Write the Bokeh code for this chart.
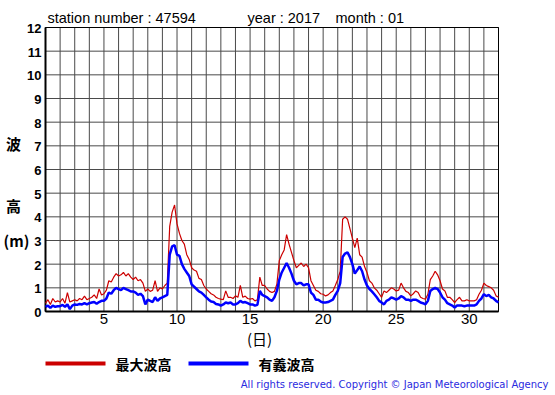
from bokeh.plotting import figure
from bokeh.models import Range1d
from bokeh.core.properties import value
from bokeh.embed import file_html
from bokeh.resources import INLINE

STEPS_PER_DAY = 6  # 4-hourly readings

max_wave = [
    0.35, 0.5, 0.3, 0.55, 0.4, 0.45,
    0.4, 0.55, 0.35, 0.8, 0.4, 0.45,
    0.5, 0.45, 0.55, 0.5, 0.65, 0.5,
    0.55, 0.6, 0.7, 0.55, 0.95, 0.7,
    0.75, 0.9, 1.3, 1.25, 1.45, 1.6,
    1.5, 1.55, 1.65, 1.5, 1.6, 1.45,
    1.35, 1.45, 1.3, 1.35, 1.2, 0.85,
    0.95, 0.85, 0.9, 1.3, 0.85, 1.0,
    0.95, 1.1, 1.2, 3.6, 4.2, 4.5,
    3.7, 3.3, 3.0, 2.85, 2.4, 2.2,
    1.85, 1.75, 1.7, 1.4, 1.35, 1.1,
    0.95, 0.85, 0.75, 0.7, 0.6, 0.55,
    0.52, 0.5, 0.87, 0.6, 0.6, 0.55,
    0.66, 0.6, 1.1, 0.6, 0.65, 0.55,
    0.52, 0.55, 0.45, 0.5, 1.45, 1.1,
    1.1, 0.95, 0.85, 0.8, 0.85, 1.15,
    2.15, 2.4, 2.6, 3.25, 2.85, 2.5,
    2.15, 1.85, 1.95, 2.05, 1.9, 2.0,
    1.85, 1.3, 1.1, 0.9, 0.85, 0.75,
    0.73, 0.66, 0.7, 0.8, 0.87, 1.1,
    1.35, 1.7, 3.9, 4.0, 3.9, 3.5,
    3.1, 2.7, 3.1, 2.4, 2.3, 1.9,
    1.65, 1.3, 1.2, 1.0, 0.9, 0.75,
    0.6, 0.87, 0.8, 0.9, 1.0, 0.95,
    0.87, 0.9, 1.2, 1.0, 0.85, 0.8,
    0.66, 0.75, 0.87, 0.8, 0.6, 0.55,
    0.52, 0.73, 1.35, 1.5, 1.7, 1.55,
    1.3, 0.95, 0.87, 0.6, 0.6, 0.5,
    0.38, 0.5, 0.6, 0.45, 0.45, 0.5,
    0.45, 0.45, 0.45, 0.5, 0.73, 0.9,
    1.2, 1.1, 1.05, 1.0, 0.9, 0.66,
    0.6,
]

sig_wave = [
    0.2, 0.25, 0.15, 0.25, 0.2, 0.22,
    0.22, 0.28, 0.2, 0.3, 0.1, 0.25,
    0.3, 0.28, 0.32, 0.3, 0.35, 0.3,
    0.35, 0.38, 0.4, 0.33, 0.4, 0.45,
    0.45, 0.55, 0.8, 0.75, 0.9, 1.0,
    0.95, 0.9, 1.0, 0.95, 0.9, 0.85,
    0.85, 0.8, 0.7, 0.75, 0.65, 0.3,
    0.5, 0.45, 0.4, 0.6, 0.45, 0.55,
    0.6, 0.65, 0.7, 2.4, 2.75, 2.8,
    2.4, 2.35, 2.0, 1.8, 1.65, 1.5,
    1.15, 1.05, 0.95, 0.85, 0.8, 0.7,
    0.6, 0.5, 0.42, 0.4, 0.32, 0.3,
    0.25, 0.3, 0.38, 0.35, 0.38, 0.3,
    0.3, 0.35, 0.45, 0.38, 0.4, 0.35,
    0.3, 0.3, 0.25, 0.28, 0.87, 0.7,
    0.65, 0.6, 0.5, 0.45, 0.6, 0.87,
    1.35, 1.65, 1.85, 2.05, 1.85, 1.6,
    1.3, 1.15, 1.2, 1.2, 1.1, 1.15,
    1.15, 0.8, 0.7, 0.5, 0.5, 0.42,
    0.38, 0.38, 0.4, 0.45, 0.5, 0.7,
    0.87, 1.2, 2.3, 2.45, 2.5, 2.3,
    2.0, 1.6, 1.75, 1.9, 1.7, 1.35,
    1.1, 0.95, 0.85, 0.73, 0.6, 0.45,
    0.38, 0.3, 0.45, 0.5, 0.6, 0.55,
    0.5, 0.55, 0.65, 0.6, 0.5, 0.5,
    0.45, 0.5, 0.5, 0.45, 0.38, 0.35,
    0.3, 0.45, 0.87, 0.95, 1.0, 0.95,
    0.8, 0.6, 0.5, 0.35, 0.3, 0.25,
    0.17, 0.25, 0.25, 0.25, 0.22, 0.25,
    0.25, 0.25, 0.25, 0.3, 0.45, 0.55,
    0.73, 0.65, 0.7, 0.6, 0.55, 0.45,
    0.38,
]

days = [1 + i / STEPS_PER_DAY for i in range(len(max_wave))]

grid_days = list(range(1, 33))
x_tick_values = [5, 10, 15, 20, 25, 30]
x_tick_labels = [str(v) for v in x_tick_values]
y_tick_values = list(range(0, 13))
y_tick_labels = [str(v) for v in y_tick_values]

title_parts = ["station number : 47594", "year : 2017", "month : 01"]
y_label_parts = ["波", "高", "(m)"]
x_label = "(日)"
legend_labels = ["最大波高", "有義波高"]
footer = "All rights reserved. Copyright © Japan Meteorological Agency"

RED = "#cc0000"
BLUE = "#0000ff"
GRID = "#4a4a4a"

# layout of the reference in page pixels: plot box and canvas
W, H = 555, 395
FL, FR, FT, FB = 45, 498, 27, 311
X0, X1, Y0, Y1 = 1, 32, 0, 12


def px(xpix):
    """page x pixel -> data x"""
    return X0 + (xpix - FL) * (X1 - X0) / (FR - FL)


def py(ypix):
    """page y pixel -> data y"""
    return Y0 + (FB - ypix) * (Y1 - Y0) / (FB - FT)


p = figure(width=W, height=H, output_backend="svg", toolbar_location=None,
           x_range=Range1d(px(0), px(W)), y_range=Range1d(py(H), py(0)),
           x_axis_type=None, y_axis_type=None,
           min_border_left=0, min_border_right=0, min_border_top=0, min_border_bottom=0)
p.outline_line_color = None
p.background_fill_color = "white"
p.border_fill_color = "white"

# grid
p.segment(x0=grid_days, y0=[Y0] * len(grid_days), x1=grid_days, y1=[Y1] * len(grid_days),
          line_color=GRID, line_width=1)
p.segment(x0=[X0] * len(y_tick_values), y0=y_tick_values,
          x1=[X1] * len(y_tick_values), y1=y_tick_values,
          line_color=GRID, line_width=1)
# frame and axes
p.quad(left=[X0], right=[X1], bottom=[Y0], top=[Y1], fill_color=None,
       line_color="black", line_width=1)
p.segment(x0=[X0, X0], y0=[Y0, Y0], x1=[X1, X0], y1=[Y0, Y1],
          line_color="black", line_width=2)

# data
p.line(days, max_wave, line_color=RED, line_width=1.2)
p.line(days, sig_wave, line_color=BLUE, line_width=2.5)

# tick labels
p.text(x=x_tick_values, y=[py(FB + 2)] * len(x_tick_values), text=x_tick_labels,
       text_font=value("Liberation Sans"), text_font_size="15px",
       text_align="center", text_baseline="top", text_color="black")
p.text(x=[px(FL - 4)] * len(y_tick_values), y=y_tick_values, text=y_tick_labels,
       text_font=value("Liberation Sans"), text_font_size="13px", text_font_style="bold",
       text_align="right", text_baseline="middle", text_color="black", y_offset=1)

# title
p.text(x=[px(47), px(247), px(335)], y=[py(17)] * 3, text=title_parts,
       text_font=value("Liberation Sans"), text_font_size="14.5px",
       text_align="left", text_baseline="middle", text_color="black")

# axis names
p.text(x=[px(13), px(13), px(16)], y=[py(143), py(205), py(240)], text=y_label_parts,
       text_font=value("Noto Sans CJK JP"), text_font_size="15px", text_font_style="bold",
       text_align="center", text_baseline="middle", text_color="black")
p.text(x=[px(259)], y=[py(338)], text=[x_label],
       text_font=value("Noto Sans CJK JP"), text_font_size="15px",
       text_align="center", text_baseline="middle", text_color="black")

# legend
p.segment(x0=[px(45), px(188)], y0=[py(363)] * 2, x1=[px(105), px(248)], y1=[py(363)] * 2,
          line_color=[RED, BLUE], line_width=4)
p.text(x=[px(115), px(258)], y=[py(363)] * 2, text=legend_labels,
       text_font=value("Noto Sans CJK JP"), text_font_size="14px", text_font_style="bold",
       text_align="left", text_baseline="middle", text_color="black")

# copyright
p.text(x=[px(548)], y=[py(384)], text=[footer],
       text_font=value("DejaVu Sans"), text_font_size="10px",
       text_align="right", text_baseline="middle", text_color="#2a2ae0")

open("out.html", "w").write(file_html(p, INLINE))
